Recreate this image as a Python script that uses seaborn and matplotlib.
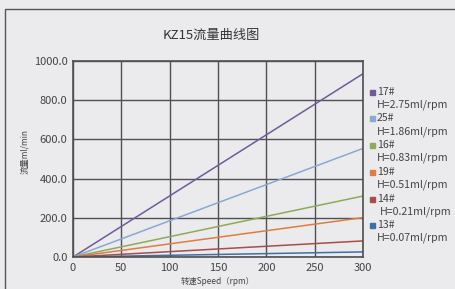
import numpy as np
import pandas as pd
import matplotlib
matplotlib.use("Agg")
import matplotlib.pyplot as plt
from matplotlib.patches import Rectangle
import seaborn as sns

# chart data
speeds = [0, 300]
pumps = ["17#", "25#", "16#", "19#", "14#", "13#"]
displacements = ["2.75", "1.86", "0.83", "0.51", "0.21", "0.07"]
flow_at_300 = [935, 554, 311, 201, 82, 26]
colors = ["#6f5a9a", "#8aa8d2", "#8eaa58", "#e07c40", "#a84c4c", "#3f6ea8"]
x_ticks = [0, 50, 100, 150, 200, 250, 300]
y_ticks = [0, 200, 400, 600, 800, 1000]

rows = []
for p, f in zip(pumps, flow_at_300):
    rows.append({"pump": p, "speed": speeds[0], "flow": 0})
    rows.append({"pump": p, "speed": speeds[1], "flow": f})
df = pd.DataFrame(rows)

sns.set_theme(style="white")
plt.rcParams["font.family"] = ["Noto Sans CJK SC", "DejaVu Sans"]
bg = "#ebebed"
txt = "#444444"

fig = plt.figure(figsize=(4.55, 2.89), dpi=100, facecolor=bg)
fig.patches.append(Rectangle((5 / 455, -0.05), 1.1, 1 - 9 / 289 + 0.05,
                             transform=fig.transFigure, fill=False,
                             edgecolor="#555555", linewidth=1))
ax = fig.add_axes([73 / 455, 32 / 289, 290 / 455, 196 / 289])
ax.set_facecolor(bg)

sns.lineplot(data=df, x="speed", y="flow", hue="pump", hue_order=pumps,
             palette=colors, linewidth=1.1, legend=False, ax=ax)

ax.set_xlim(0, 300)
ax.set_ylim(0, 1000)
ax.set_xticks(x_ticks)
ax.set_yticks(y_ticks)
ax.set_yticklabels([f"{v:.1f}" for v in y_ticks])
ax.tick_params(length=0, labelsize=8, colors=txt, pad=4)
ax.grid(True, color="#505050", linewidth=1)
ax.set_axisbelow(True)
for s in ax.spines.values():
    s.set_color("#505050")
    s.set_linewidth(1.2)

ax.set_xlabel("转速Speed（rpm）", fontsize=6, color=txt, labelpad=3)
ax.set_ylabel("流量ml/min", fontsize=6, color=txt)
ax.yaxis.set_label_coords(-0.152, 0.536)
fig.text(0.464, 0.879, "KZ15流量曲线图", ha="center", va="center",
         fontsize=9.5, color="#333333")

# legend: square + pump name, displacement on the line below
for i, (p, d, c) in enumerate(zip(pumps, displacements, colors)):
    y0 = 91.7 + i * 26.7
    fig.patches.append(Rectangle((370 / 455, 1 - (y0 + 3) / 289), 5 / 455, 5 / 289,
                                 transform=fig.transFigure, color=c))
    fig.text(377 / 455, 1 - y0 / 289, p, fontsize=7.6, color=txt, va="center")
    hx = 380 if p == "14#" else 377
    fig.text(hx / 455, 1 - (y0 + 13) / 289, f"H={d}ml/rpm", fontsize=7.6,
             color=txt, va="center")

fig.savefig("out.png", dpi=100, facecolor=bg)
